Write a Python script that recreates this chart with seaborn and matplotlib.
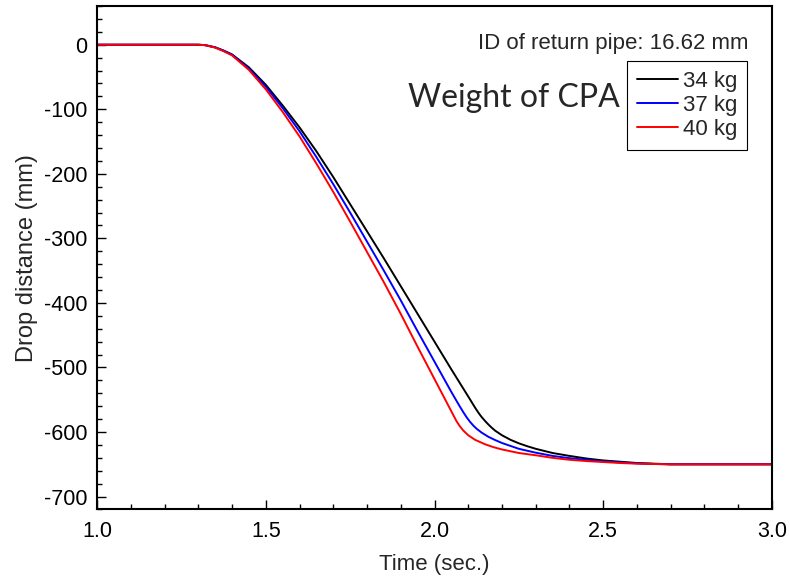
import matplotlib
matplotlib.use("Agg")
import matplotlib.pyplot as plt
from matplotlib.ticker import MultipleLocator, FormatStrFormatter
import pandas as pd
import seaborn as sns

# Drop distance of the CPA vs. time for three CPA weights
time_34 = [1.00, 1.30, 1.32, 1.35, 1.375, 1.40, 1.45, 1.50, 1.55, 1.60, 1.65, 1.70,
           1.75, 1.80, 1.85, 1.90, 1.95, 2.00, 2.05, 2.10, 2.12, 2.13, 2.14, 2.15,
           2.16, 2.17, 2.18, 2.20, 2.225, 2.25, 2.275, 2.30, 2.35, 2.40, 2.45, 2.50,
           2.55, 2.60, 2.65, 2.70, 3.00]
drop_34 = [0, 0, -0.6, -4, -9, -15, -35, -62, -94, -128, -165, -205,
           -247, -289, -331, -374, -417, -460, -503, -545, -562, -570, -577, -583,
           -588.5, -593.5, -598, -605, -612, -617.5, -622, -626, -632.5, -637, -641, -644,
           -646, -648, -649, -650, -650]

time_37 = [1.00, 1.30, 1.32, 1.35, 1.375, 1.40, 1.45, 1.50, 1.55, 1.60, 1.65, 1.70,
           1.75, 1.80, 1.85, 1.90, 1.95, 2.00, 2.05, 2.07, 2.085, 2.095, 2.105, 2.115,
           2.125, 2.14, 2.16, 2.18, 2.20, 2.25, 2.30, 2.35, 2.40, 2.45, 2.50, 2.55,
           2.60, 2.65, 2.70, 3.00]
drop_37 = [0, 0, -0.6, -4, -9.3, -15.5, -37, -65, -98, -134, -174, -216,
           -260, -305, -350, -396, -444, -491, -538, -556, -569, -577, -584, -590,
           -595, -601, -607.5, -612.5, -617, -626, -632, -637, -640.5, -643, -645.5, -647,
           -648.5, -649.5, -650, -650]

time_40 = [1.00, 1.30, 1.32, 1.35, 1.375, 1.40, 1.45, 1.50, 1.55, 1.60, 1.65, 1.70,
           1.75, 1.80, 1.85, 1.90, 1.95, 2.00, 2.03, 2.045, 2.056, 2.065, 2.075, 2.085,
           2.10, 2.12, 2.15, 2.175, 2.20, 2.25, 2.30, 2.35, 2.40, 2.45, 2.50, 2.55,
           2.60, 2.65, 2.70, 3.00]
drop_40 = [0, 0, -0.7, -4.5, -10, -16.5, -39, -69, -104, -142, -184, -228,
           -274, -321, -368, -417, -468, -518, -548, -563, -574, -583, -591, -597.5,
           -605, -612, -619, -623.5, -627, -632.5, -636, -640, -643, -645, -646.5, -648,
           -649, -649.5, -650, -650]

weights = ["34 kg", "37 kg", "40 kg"]
colors = ["black", "blue", "red"]

frames = []
for w, t, d in zip(weights, [time_34, time_37, time_40], [drop_34, drop_37, drop_40]):
    frames.append(pd.DataFrame({"time": t, "drop": d, "weight": w}))
df = pd.concat(frames, ignore_index=True)

sns.set_theme(style="ticks")
plt.rcParams["font.family"] = ["Liberation Sans", "DejaVu Sans"]
plt.rcParams["axes.unicode_minus"] = False

fig = plt.figure(figsize=(7.9, 5.77), dpi=100)
ax = fig.add_axes([0.1228, 0.117, 0.8544, 0.8726])

sns.lineplot(data=df, x="time", y="drop", hue="weight", hue_order=weights,
             palette=colors, linewidth=1.4, ax=ax, sort=False, estimator=None)

ax.set_xlim(1.0, 3.0)
ax.set_ylim(-720, 60)
ax.xaxis.set_major_locator(MultipleLocator(0.5))
ax.xaxis.set_minor_locator(MultipleLocator(0.1))
ax.yaxis.set_major_locator(MultipleLocator(100))
ax.yaxis.set_minor_locator(MultipleLocator(20))
ax.xaxis.set_major_formatter(FormatStrFormatter("%.1f"))

ax.tick_params(which="both", direction="in", top=False, right=False,
               width=1.0, colors="black", labelsize=15.5)
ax.tick_params(which="major", length=6.5)
ax.tick_params(which="minor", length=3.3)
ax.tick_params(axis="x", which="major", pad=8)
ax.tick_params(axis="y", which="major", pad=7)
for s in ax.spines.values():
    s.set_linewidth(1.5)
    s.set_color("black")

ax.set_xlabel("Time (sec.)", fontsize=16, labelpad=9)
ax.set_ylabel("Drop distance (mm)", fontsize=17, labelpad=4)

leg = ax.legend(loc="upper right", bbox_to_anchor=(0.963, 0.891), fontsize=16,
                frameon=True, fancybox=False, edgecolor="black", framealpha=1,
                borderpad=0.45, labelspacing=0.14, handlelength=1.85,
                handletextpad=0.2, borderaxespad=0.0, title=None)
leg.get_frame().set_linewidth(0.8)
for line in leg.get_lines():
    line.set_linewidth(1.4)

ax.text(0.965, 0.9265, "ID of return pipe: 16.62 mm", transform=ax.transAxes,
        ha="right", va="center", fontsize=16)
ax.text(0.461, 0.800, "Weight of CPA", transform=ax.transAxes,
        ha="left", va="baseline", fontsize=23, family=["Lato", "DejaVu Sans"])

fig.savefig("out.png", dpi=100)
